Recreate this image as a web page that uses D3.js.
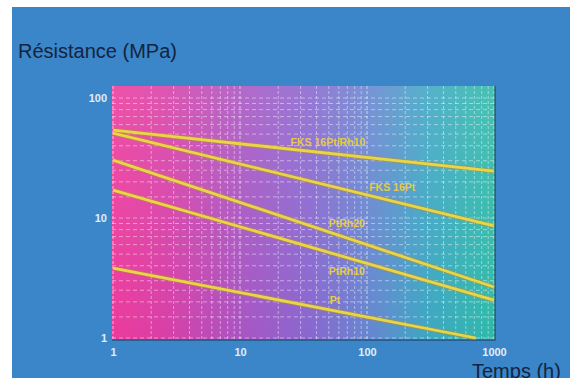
<!DOCTYPE html>
<html>
<head>
<meta charset="utf-8">
<script src="https://cdn.jsdelivr.net/npm/d3@7"></script>
<style>
  body { margin: 0; background: #fff; }
  svg { display: block; }
</style>
</head>
<body>
<div id="chart"></div>
<script>
// series (log-log straight lines, start at 1 h)
const seriesNames = ['FKS 16Pt/Rh10', 'FKS 16Pt', 'PtRh20', 'PtRh10', 'Pt'];
const startTime = [1, 1, 1, 1, 1];
const startValue = [54, 51, 30.4, 17.1, 3.83];
const endTime = [1000, 1000, 1000, 1000, 720];
const endValue = [24.6, 8.6, 2.66, 2.07, 1.0];

// where each curve name is written (in data units: hours, MPa)
const labelTime = [25, 104, 50, 50, 51];
const labelValue = [39.8, 16.8, 8.4, 3.35, 1.92];

const xTickLabels = [1, 10, 100, 1000];
const yTickLabels = [1, 10, 100];

const width = 575, height = 381;

const svg = d3.select('#chart').append('svg')
  .attr('width', width)
  .attr('height', height);

const defs = svg.append('defs');

// blue panel
svg.append('rect')
  .attr('x', 12).attr('y', 7)
  .attr('width', 558).attr('height', 371)
  .attr('fill', '#3a86c8');

defs.append('clipPath').attr('id', 'panel')
  .append('rect').attr('x', 12).attr('y', 7).attr('width', 558).attr('height', 371);

const x = d3.scaleLog().domain([1, 1000]).range([113, 494]);
const y = d3.scaleLog().domain([1, 100]).range([338, 98]);

const pL = 112, pR = 495, pT = 86, pB = 340;

// plot background gradient
const grad = defs.append('linearGradient').attr('id', 'bg')
  .attr('x1', '0%').attr('x2', '100%').attr('y1', '0%').attr('y2', '0%');
[['0%', '#ec3a9c'], ['15%', '#d640a8'], ['35%', '#a656c4'], ['52%', '#8868d0'],
 ['68%', '#6488cf'], ['82%', '#3ea6c4'], ['100%', '#2ebaa8']].forEach(s => {
  grad.append('stop').attr('offset', s[0]).attr('stop-color', s[1]);
});
const shade = defs.append('linearGradient').attr('id', 'shade')
  .attr('x1', '0%').attr('x2', '0%').attr('y1', '0%').attr('y2', '100%');
shade.append('stop').attr('offset', '0%').attr('stop-color', '#fff').attr('stop-opacity', 0.12);
shade.append('stop').attr('offset', '100%').attr('stop-color', '#fff').attr('stop-opacity', 0);

svg.append('rect')
  .attr('x', pL).attr('y', pT)
  .attr('width', pR - pL).attr('height', pB - pT)
  .attr('fill', 'url(#bg)');
svg.append('rect')
  .attr('x', pL).attr('y', pT)
  .attr('width', pR - pL).attr('height', pB - pT)
  .attr('fill', 'url(#shade)');

defs.append('clipPath').attr('id', 'plot')
  .append('rect').attr('x', pL).attr('y', pT).attr('width', pR - pL).attr('height', pB - pT);

// grid
const grid = svg.append('g').attr('clip-path', 'url(#plot)');
const xGrid = [];
for (let d = 1; d < 1000; d *= 10) for (let k = 1; k < 10; k++) xGrid.push(d * k);
xGrid.push(1000);
const yGrid = [];
for (let d = 1; d <= 100; d *= 10) [1, 1.5, 2, 2.5, 3, 4, 5, 6, 7, 8, 9].forEach(k => yGrid.push(d * k));

grid.selectAll('.vg').data(xGrid).enter().append('line')
  .attr('x1', d => x(d)).attr('x2', d => x(d))
  .attr('y1', pT).attr('y2', pB)
  .attr('stroke', '#fff')
  .attr('stroke-opacity', d => xTickLabels.includes(d) ? 0.6 : 0.45)
  .attr('stroke-width', 1)
  .attr('stroke-dasharray', '3,2');

grid.selectAll('.hg').data(yGrid).enter().append('line')
  .attr('x1', pL).attr('x2', pR)
  .attr('y1', d => y(d)).attr('y2', d => y(d))
  .attr('stroke', '#fff')
  .attr('stroke-opacity', 0.45)
  .attr('stroke-width', 1)
  .attr('stroke-dasharray', '4,3');

// dark edge on bottom and right
svg.append('path')
  .attr('d', `M${pL},${pB}H${pR}V${pT}`)
  .attr('fill', 'none')
  .attr('stroke', '#1d3f5c')
  .attr('stroke-opacity', 0.7)
  .attr('stroke-width', 1.5);

// curves
const curves = seriesNames.map((name, i) => ({
  name,
  pts: [[startTime[i], startValue[i]], [endTime[i], endValue[i]]]
}));
const line = d3.line().x(d => x(d[0])).y(d => y(d[1]));

const lines = svg.append('g').attr('clip-path', 'url(#plot)');
lines.selectAll('.under').data(curves).enter().append('path')
  .attr('d', d => line(d.pts))
  .attr('fill', 'none')
  .attr('stroke', '#b8902c')
  .attr('stroke-opacity', 0.55)
  .attr('stroke-width', 4.8);
lines.selectAll('.curve').data(curves).enter().append('path')
  .attr('d', d => line(d.pts))
  .attr('fill', 'none')
  .attr('stroke', '#e8d646')
  .attr('stroke-width', 2.8);

svg.append('g').selectAll('text').data(seriesNames).enter().append('text')
  .attr('x', (d, i) => x(labelTime[i]))
  .attr('y', (d, i) => y(labelValue[i]))
  .attr('fill', '#e4cc48')
  .attr('font-family', 'Liberation Sans, Arial, sans-serif')
  .attr('font-size', 10.5)
  .attr('font-weight', 'bold')
  .text(d => d);

// axes (labels only)
const xAxis = svg.append('g')
  .attr('transform', `translate(0,${pB})`)
  .call(d3.axisBottom(x).tickValues(xTickLabels).tickFormat(d3.format('d')).tickSize(0).tickPadding(8));
const yAxis = svg.append('g')
  .attr('transform', `translate(${pL},0)`)
  .call(d3.axisLeft(y).tickValues(yTickLabels).tickFormat(d3.format('d')).tickSize(0).tickPadding(5));
[xAxis, yAxis].forEach(a => {
  a.select('.domain').remove();
  a.selectAll('text')
    .attr('fill', '#e2ebf7')
    .attr('font-family', 'Liberation Sans, Arial, sans-serif')
    .attr('font-size', 11)
    .attr('font-weight', 'bold');
});

// titles
svg.append('text')
  .attr('x', 18).attr('y', 58)
  .attr('fill', '#14243f')
  .attr('font-family', 'Liberation Sans, Arial, sans-serif')
  .attr('font-size', 20)
  .text('Résistance (MPa)');

svg.append('text')
  .attr('clip-path', 'url(#panel)')
  .attr('x', 472).attr('y', 378)
  .attr('fill', '#14243f')
  .attr('font-family', 'Liberation Sans, Arial, sans-serif')
  .attr('font-size', 20)
  .text('Temps (h)');
</script>
</body>
</html>
